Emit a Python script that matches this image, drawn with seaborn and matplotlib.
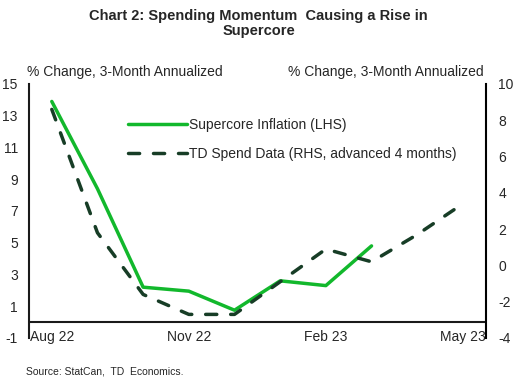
import matplotlib
matplotlib.use("Agg")
import matplotlib.pyplot as plt
import seaborn as sns
import numpy as np
import pandas as pd

months = ["Aug 22", "Sep 22", "Oct 22", "Nov 22", "Dec 22",
          "Jan 23", "Feb 23", "Mar 23", "Apr 23", "May 23"]
supercore = [13.9, 8.4, 2.2, 1.95, 0.75, 2.6, 2.3, 4.8, np.nan, np.nan]
td_spend = [8.6, 1.8, -1.6, -2.7, -2.7, -0.9, 0.9, 0.2, 1.7, 3.4]
tick_months = ["Aug 22", "Nov 22", "Feb 23", "May 23"]

GREEN = "#12B82C"
DARK = "#173D26"

sns.set_style("white")
plt.rcParams["font.family"] = ["Liberation Sans", "DejaVu Sans"]
plt.rcParams["axes.unicode_minus"] = False

df = pd.DataFrame({"month": months, "x": np.arange(len(months)),
                   "supercore": supercore, "td": td_spend})

fig = plt.figure(figsize=(5.17, 3.86), dpi=100)
ax = fig.add_axes([0.056, 0.1244, 0.8835, 0.658])
ax2 = ax.twinx()

sns.lineplot(data=df.dropna(subset=["supercore"]), x="x", y="supercore", ax=ax,
             color=GREEN, linewidth=2.5, label="Supercore Inflation (LHS)", legend=False)
sns.lineplot(data=df, x="x", y="td", ax=ax2, color=DARK, linewidth=2.5,
             label="TD Spend Data (RHS, advanced 4 months)", legend=False)
l2 = ax2.get_lines()[0]
l2.set_dashes([3.2, 4.0])
l2.set_dash_capstyle("round")

ax.set_xlim(-0.5, len(months) - 0.5)
ax.set_ylim(-1, 15)
ax.set_yticks(np.arange(-1, 16, 2))
ax2.set_ylim(-4, 10)
ax2.set_yticks(np.arange(-4, 11, 2))

ax.set_xticks([months.index(m) for m in tick_months])
ax.set_xticklabels(tick_months)
ax.axhline(0, color="#1a1a1a", linewidth=1.5, zorder=1)

for a in (ax, ax2):
    a.set_xlabel("")
    a.set_ylabel("")
    a.grid(False)
    for s in a.spines.values():
        s.set_visible(False)
ax.spines["left"].set_visible(True)
ax.spines["left"].set_color("#1a1a1a")
ax.spines["left"].set_linewidth(1.5)
ax2.spines["right"].set_visible(True)
ax2.spines["right"].set_color("black")
ax2.spines["right"].set_linewidth(1.5)

ax.tick_params(axis="y", length=0, pad=8, labelsize=10)
ax.tick_params(axis="x", length=0, pad=-6, labelsize=10)
ax2.tick_params(axis="y", length=0, pad=9, labelsize=10)

ax.text(-0.005, 1.02, "% Change, 3-Month Annualized", transform=ax.transAxes,
        ha="left", va="bottom", fontsize=10)
ax2.text(0.995, 1.02, "% Change, 3-Month Annualized", transform=ax2.transAxes,
         ha="right", va="bottom", fontsize=10)

handles = ax.get_lines()[:1] + [l2]
ax2.legend(handles=handles, labels=[h.get_label() for h in handles],
           loc="upper left", bbox_to_anchor=(0.19, 0.915), frameon=False,
           fontsize=10, handlelength=4.2, handletextpad=0.15, labelspacing=1.1)

fig.text(0.5, 0.977, "Chart 2: Spending Momentum  Causing a Rise in\nSupercore",
         ha="center", va="top", fontsize=10.5, fontweight="bold", linespacing=1.1)
fig.text(0.05, 0.025, "Source: StatCan,  TD  Economics.", ha="left", va="bottom",
         fontsize=7.5)

fig.savefig("out.png", dpi=100)
